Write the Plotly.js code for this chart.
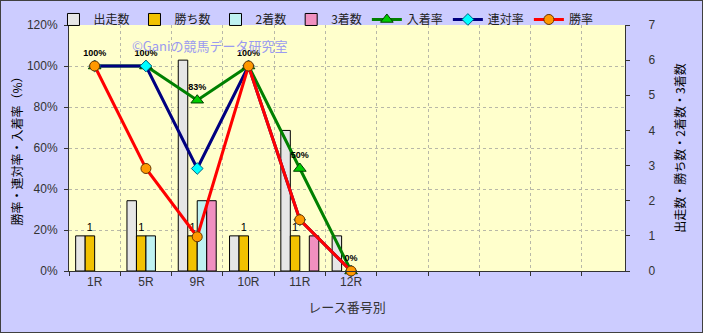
<!DOCTYPE html>
<html>
<head>
<meta charset="utf-8">
<script src="https://cdn.plot.ly/plotly-3.0.1.min.js"></script>
<style>
  html, body { margin: 0; padding: 0; background: #ccccff; }
  #chart { width: 701px; height: 331px; border: 1px solid #404040; }
</style>
</head>
<body>
<div id="chart"></div>
<script>
// ---- data ----
const categories = ['1R', '5R', '9R', '10R', '11R', '12R'];
const starts  = [1, 2, 6, 1, 4, 1];      // 出走数
const wins    = [1, 1, 1, 1, 1, 0];      // 勝ち数
const seconds = [0, 1, 2, 0, 0, 0];      // 2着数
const thirds  = [0, 0, 2, 0, 1, 0];      // 3着数
const placeRate  = [100, 100, 83.3, 100, 50, 0];  // 入着率 %
const rentaiRate = [100, 100, 50, 100, 25, 0];    // 連対率 %
const winRate    = [100, 50, 16.7, 100, 25, 0];   // 勝率 %

const xIdx = categories.map((_, i) => i);
const FONT = 'Liberation Sans, Noto Sans CJK JP, sans-serif';
const JFONT = 'Noto Sans CJK JP, Liberation Sans, sans-serif';

function barTrace(name, vals, color, withText) {
  const t = {
    type: 'bar', name: name, x: xIdx, y: vals.map(v => v > 0 ? v : null),
    xaxis: 'x', yaxis: 'y',
    marker: { color: color, line: { color: '#000000', width: 1 } },
    hoverinfo: 'skip'
  };
  if (withText) {
    t.text = vals.map(v => v > 0 ? String(v) : '');
    t.textposition = 'outside';
    t.textfont = { family: FONT, size: 11, color: '#000000' };
    t.constraintext = 'none';
    t.cliponaxis = false;
  }
  return t;
}

const data = [
  barTrace('出走数', starts, '#e6e6e6', false),
  barTrace('勝ち数', wins, '#f2c200', true),
  barTrace('2着数', seconds, '#bff2f2', false),
  barTrace('3着数', thirds, '#f090c0', false),
  {
    type: 'scatter', mode: 'lines+markers+text', name: '入着率',
    x: xIdx, y: placeRate, xaxis: 'x', yaxis: 'y2',
    text: placeRate.map(v => Math.round(v) + '%'),
    textposition: 'top center',
    textfont: { family: FONT, size: 9, color: '#000000', weight: 'bold' },
    line: { color: '#008000', width: 3 },
    marker: { symbol: 'triangle-up', size: 11, color: '#00cc00', line: { color: '#004000', width: 1 } },
    cliponaxis: false
  },
  {
    type: 'scatter', mode: 'lines+markers', name: '連対率',
    x: xIdx, y: rentaiRate, xaxis: 'x', yaxis: 'y2',
    line: { color: '#000080', width: 3 },
    marker: { symbol: 'diamond', size: 9, color: '#00ffff', line: { color: '#006080', width: 1 } },
    cliponaxis: false
  },
  {
    type: 'scatter', mode: 'lines+markers', name: '勝率',
    x: xIdx, y: winRate, xaxis: 'x', yaxis: 'y2',
    line: { color: '#ff0000', width: 3 },
    marker: { symbol: 'circle', size: 10, color: '#ff9900', line: { color: '#663300', width: 1 } },
    cliponaxis: false
  }
];

const layout = {
  width: 701, height: 331,
  margin: { l: 68, r: 77, t: 24, b: 61, autoexpand: false },
  paper_bgcolor: '#ccccff',
  plot_bgcolor: '#ffffcc',
  font: { family: FONT, size: 12, color: '#333333' },
  barmode: 'group',
  bargap: 0.26,
  bargroupgap: 0,
  showlegend: true,
  legend: {
    orientation: 'h', xref: 'container', yref: 'container',
    x: 0.4636, xanchor: 'center', y: 0.988, yanchor: 'top',
    font: { family: JFONT, size: 12, color: '#222222' },
    bgcolor: 'rgba(0,0,0,0)', itemwidth: 30, traceorder: 'normal'
  },
  xaxis: {
    range: [-0.5, 10.34],
    tickmode: 'array', tickvals: xIdx, ticktext: categories,
    ticks: '', showgrid: false, zeroline: false,
    showline: true, linecolor: '#333333', linewidth: 1,
    tickfont: { family: FONT, size: 12, color: '#333333' },
    minor: { tickmode: 'linear', tick0: 0.5, dtick: 1, showgrid: true,
             gridcolor: '#b8b8a8', griddash: 'dot', gridwidth: 1,
             ticks: 'outside', ticklen: 4, tickcolor: '#333333' },
    title: { text: 'レース番号別', font: { family: JFONT, size: 13, color: '#333333' }, standoff: 14 },
    fixedrange: true
  },
  // bars' axis (right side)
  yaxis: {
    range: [0, 7], dtick: 1, side: 'right',
    showgrid: false, zeroline: false,
    showline: true, linecolor: '#333333', linewidth: 1,
    ticks: 'outside', ticklen: 4, tickcolor: '#333333',
    ticklabelstandoff: 16,
    tickfont: { family: FONT, size: 12, color: '#333333' },
    title: { text: '出走数・勝ち数・2着数・3着数', font: { family: JFONT, size: 12, color: '#000000' }, standoff: 22 },
    fixedrange: true
  },
  // rates axis (left side)
  yaxis2: {
    range: [0, 120], dtick: 20, ticksuffix: '%', side: 'left', overlaying: 'y',
    showgrid: true, gridcolor: '#b8b8a8', griddash: 'dot', gridwidth: 1,
    zeroline: false,
    showline: true, linecolor: '#333333', linewidth: 1,
    ticks: 'outside', ticklen: 4, tickcolor: '#333333',
    ticklabelstandoff: 4,
    tickfont: { family: FONT, size: 12, color: '#333333' },
    title: { text: '勝率・連対率・入着率（%）', font: { family: JFONT, size: 12, color: '#000000' }, standoff: 1 },
    fixedrange: true
  },
  annotations: [{
    xref: 'paper', yref: 'paper', x: 0.254, xanchor: 'center', y: 0.918, yanchor: 'middle',
    text: '©Ganiの競馬データ研究室', showarrow: false,
    font: { family: JFONT, size: 13, color: '#9a9af0' }
  }]
};

Plotly.newPlot('chart', data, layout, { displayModeBar: false, staticPlot: true });
</script>
</body>
</html>
